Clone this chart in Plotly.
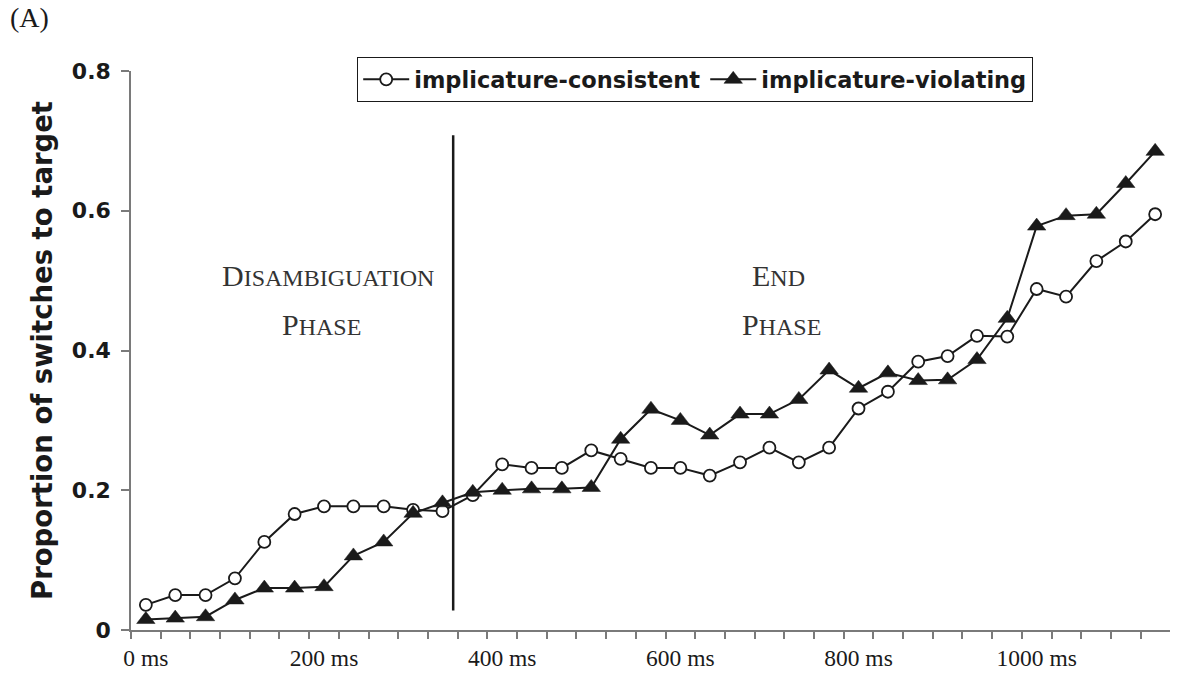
import plotly.graph_objects as go

# Time bins (ms from onset, 33 ms bins) and proportions of switches to target
time_ms = [0, 33, 67, 100, 133, 167, 200, 233, 267, 300, 333, 367, 400, 433, 467,
           500, 533, 567, 600, 633, 667, 700, 733, 767, 800, 833, 867, 900, 933,
           967, 1000, 1033, 1067, 1100, 1133]

consistent = [0.036, 0.050, 0.050, 0.074, 0.126, 0.166, 0.177, 0.177, 0.177, 0.172,
              0.170, 0.193, 0.237, 0.232, 0.232, 0.257, 0.245, 0.232, 0.232, 0.221,
              0.240, 0.261, 0.240, 0.261, 0.317, 0.341, 0.384, 0.392, 0.421, 0.420,
              0.488, 0.477, 0.528, 0.556, 0.595]

violating = [0.015, 0.017, 0.019, 0.043, 0.060, 0.060, 0.062, 0.106, 0.126, 0.167,
             0.182, 0.197, 0.200, 0.202, 0.202, 0.204, 0.273, 0.316, 0.300, 0.279,
             0.309, 0.309, 0.330, 0.372, 0.346, 0.368, 0.357, 0.358, 0.387, 0.446,
             0.578, 0.593, 0.595, 0.639, 0.685]

series_names = ["implicature-consistent", "implicature-violating"]

x_tick_vals = [0, 200, 400, 600, 800, 1000]
x_tick_text = ["0 ms", "200 ms", "400 ms", "600 ms", "800 ms", "1000 ms"]
y_tick_vals = [0, 0.2, 0.4, 0.6, 0.8]
y_tick_text = ["0", "0.2", "0.4", "0.6", "0.8"]

BIN_MS = 100 / 3
PHASE_BOUNDARY_MS = 345

INK = "#1a1a1a"
AXIS = "#7a7a7a"
SANS = "DejaVu Sans"
SERIF = "Liberation Serif"

# plot area in pixels (used to place paper-referenced items)
PLOT_L, PLOT_R, PLOT_T, PLOT_B = 131, 1170, 71, 630

fig = go.Figure()

fig.add_trace(go.Scatter(
    x=time_ms, y=consistent, name=series_names[0], mode="lines+markers",
    line=dict(color=INK, width=2),
    marker=dict(symbol="circle", size=12, color="white", line=dict(color=INK, width=1.8)),
))
fig.add_trace(go.Scatter(
    x=time_ms, y=violating, name=series_names[1], mode="lines+markers",
    line=dict(color=INK, width=2),
    marker=dict(symbol="triangle-up", size=16, color=INK, line=dict(color=INK, width=0.5)),
))

# Boundary between the disambiguation phase and the end phase
fig.add_shape(type="line", xref="x", yref="y",
              x0=PHASE_BOUNDARY_MS, x1=PHASE_BOUNDARY_MS, y0=0.028, y1=0.708,
              line=dict(color=INK, width=2.5))

def small_caps(word, big=30, small=24):
    return (f"<span style='font-size:{big}px'>{word[0]}</span>"
            f"<span style='font-size:{small}px'>{word[1:]}</span>")

phase_labels = [
    (204, 0.508, "DISAMBIGUATION"),
    (197, 0.437, "PHASE"),
    (710, 0.508, "END"),
    (714, 0.437, "PHASE"),
]
for x, y, word in phase_labels:
    fig.add_annotation(x=x, y=y, xref="x", yref="y", text=small_caps(word),
                       showarrow=False, font=dict(family=SERIF, size=30, color="#333333"),
                       xanchor="center", yanchor="middle")

# Panel letter
fig.add_annotation(x=(8 - PLOT_L) / (PLOT_R - PLOT_L), y=(PLOT_B - 18) / (PLOT_B - PLOT_T),
                   xref="paper", yref="paper", text="(A)", showarrow=False,
                   font=dict(family=SERIF, size=28, color=INK),
                   xanchor="left", yanchor="middle")

fig.update_xaxes(
    range=[-BIN_MS / 2, time_ms[-1] + BIN_MS / 2],
    tickmode="array", tickvals=x_tick_vals, ticktext=x_tick_text,
    ticks="", showline=True, linecolor=AXIS, linewidth=1.5,
    showgrid=False, zeroline=False, automargin=False,
    tickfont=dict(family=SERIF, size=23.5, color=INK),
    ticklabelstandoff=6,
    minor=dict(ticks="outside", tick0=-BIN_MS / 2, dtick=BIN_MS,
               ticklen=7, tickwidth=1.5, tickcolor=AXIS, showgrid=False),
)
fig.update_yaxes(
    range=[0, 0.8],
    tickmode="array", tickvals=y_tick_vals, ticktext=y_tick_text,
    ticks="outside", ticklen=8, tickwidth=1.5, tickcolor=AXIS,
    showline=True, linecolor=AXIS, linewidth=1.5,
    showgrid=False, zeroline=False, automargin=False,
    tickfont=dict(family=SANS, size=22, color=INK, weight="bold"),
    ticklabelstandoff=6,
    title=dict(text="Proportion of switches to target",
               font=dict(family=SANS, size=27.5, color=INK, weight="bold"),
               standoff=11),
)

fig.update_layout(
    width=1188, height=673,
    margin=dict(l=PLOT_L, r=1188 - PLOT_R, t=PLOT_T, b=673 - PLOT_B),
    plot_bgcolor="white", paper_bgcolor="white",
    showlegend=True,
    legend=dict(
        orientation="h",
        x=(357 - PLOT_L) / (PLOT_R - PLOT_L), y=(PLOT_B - 57) / (PLOT_B - PLOT_T),
        xanchor="left", yanchor="top",
        bordercolor=INK, borderwidth=1.2, bgcolor="white",
        font=dict(family=SANS, size=22.5, color=INK, weight="bold"),
        itemwidth=46,
    ),
)

fig.write_html("out.html")
